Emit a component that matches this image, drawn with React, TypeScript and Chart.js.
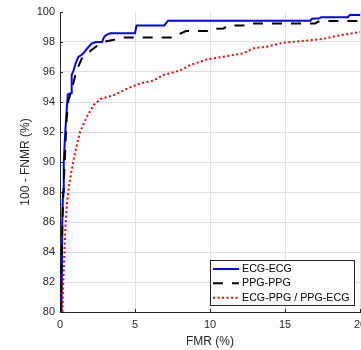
import React, { useEffect, useRef } from 'react';
import { Chart, registerables } from 'chart.js';

Chart.register(...registerables);

// ---- data ----
const ecgEcgX = [0.1, 0.15, 0.2, 0.25, 0.35, 0.45, 0.52, 0.74, 0.78, 0.9, 1.05, 1.22, 1.45, 1.6, 1.8, 2.1, 2.4, 2.8, 2.95, 3.1, 3.35, 5.0, 5.1, 6.95, 7.2, 16.7, 16.8, 17.3, 17.4, 19.2, 19.3, 20];
const ecgEcgY = [80, 86, 88, 90, 92, 93.5, 94.5, 94.6, 95.8, 96.1, 96.6, 97.0, 97.15, 97.3, 97.55, 97.9, 98.0, 98.0, 98.35, 98.47, 98.58, 98.58, 99.1, 99.1, 99.42, 99.42, 99.55, 99.58, 99.65, 99.65, 99.8, 99.8];

const ppgPpgX = [0.05, 0.12, 0.18, 0.25, 0.35, 0.44, 0.56, 0.75, 0.9, 1.0, 1.22, 1.45, 1.8, 2.1, 2.55, 3.1, 3.6, 3.8, 4.0, 7.6, 7.9, 8.4, 9.8, 10.0, 10.9, 11.2, 12.3, 12.6, 17.0, 17.3, 20];
const ppgPpgY = [80, 84, 86.6, 88.6, 90.8, 92.8, 94.1, 94.7, 95.3, 95.7, 96.35, 96.9, 97.2, 97.47, 97.8, 98.05, 98.15, 98.24, 98.3, 98.3, 98.5, 98.73, 98.73, 98.87, 98.9, 99.1, 99.1, 99.24, 99.24, 99.4, 99.4];

const crossX = [0.16, 0.22, 0.29, 0.38, 0.47, 0.6, 0.78, 1.0, 1.33, 1.78, 2.25, 2.7, 3.7, 4.35, 5.35, 6.2, 6.9, 8.0, 8.7, 9.8, 10.9, 12.2, 12.9, 13.8, 14.9, 16.4, 17.5, 18.4, 19.1, 20];
const crossY = [80, 82, 84, 86, 87.3, 88.4, 89.5, 90.6, 92.0, 93.0, 93.8, 94.2, 94.5, 94.84, 95.24, 95.42, 95.8, 96.1, 96.47, 96.84, 97.02, 97.24, 97.58, 97.69, 97.96, 98.09, 98.2, 98.4, 98.51, 98.67];

const seriesLabels = ['ECG-ECG', 'PPG-PPG', 'ECG-PPG / PPG-ECG'];
const xTickValues = [0, 5, 10, 15, 20];
const yTickValues = [80, 82, 84, 86, 88, 90, 92, 94, 96, 98, 100];

const FONT = "'Liberation Sans', Arial, Helvetica, sans-serif";
const AXIS_COLOR = '#262626';
const GRID_COLOR = '#dfdfdf';

const toPoints = (xs: number[], ys: number[]) => xs.map((x, i) => ({ x, y: ys[i] }));

const tickPlugin = {
  id: 'inwardTicks',
  beforeDatasetsDraw(chart: any) {
    const { ctx, chartArea, scales } = chart;
    ctx.save();
    ctx.strokeStyle = AXIS_COLOR;
    ctx.lineWidth = 1;
    ctx.beginPath();
    xTickValues.forEach((v) => {
      const px = Math.round(scales.x.getPixelForValue(v)) + 0.5;
      ctx.moveTo(px, chartArea.bottom);
      ctx.lineTo(px, chartArea.bottom - 3);
    });
    yTickValues.forEach((v) => {
      const py = Math.round(scales.y.getPixelForValue(v)) + 0.5;
      ctx.moveTo(chartArea.left, py);
      ctx.lineTo(chartArea.left + 3, py);
    });
    ctx.stroke();
    ctx.restore();
  },
};

const legendPlugin = {
  id: 'insideLegend',
  afterDraw(chart: any) {
    const { ctx, chartArea } = chart;
    const datasets = chart.data.datasets;
    ctx.save();
    ctx.font = `10.7px ${FONT}`;
    const textW = Math.max(...datasets.map((d: any) => ctx.measureText(d.label).width));
    const sampleLen = 26;
    const width = Math.round(3 + sampleLen + 3 + textW + 5);
    const height = 45;
    const right = chartArea.right - 6;
    const bottom = chartArea.bottom - 7;
    const left = right - width;
    const top = bottom - height;
    ctx.fillStyle = '#ffffff';
    ctx.fillRect(left, top, width, height);
    ctx.strokeStyle = AXIS_COLOR;
    ctx.lineWidth = 1;
    ctx.strokeRect(left + 0.5, top + 0.5, width, height);
    const rows = [top + 9, top + 23.3, top + 37.7];
    datasets.forEach((d: any, i: number) => {
      const y = rows[i];
      ctx.beginPath();
      ctx.strokeStyle = d.borderColor;
      ctx.lineWidth = d.borderWidth;
      ctx.setLineDash(d.borderDash || []);
      ctx.moveTo(left + 3, y);
      ctx.lineTo(left + 3 + sampleLen, y);
      ctx.stroke();
      ctx.setLineDash([]);
      ctx.fillStyle = '#000000';
      ctx.textBaseline = 'middle';
      ctx.textAlign = 'left';
      ctx.fillText(d.label, left + 3 + sampleLen + 3, y);
    });
    ctx.restore();
  },
};

export default function App() {
  const ref = useRef<HTMLCanvasElement>(null);
  useEffect(() => {
    document.body.style.margin = '0';
    const chart = new Chart(ref.current as HTMLCanvasElement, {
      type: 'line',
      data: {
        datasets: [
          {
            label: seriesLabels[0],
            data: toPoints(ecgEcgX, ecgEcgY),
            borderColor: '#0000ff',
            borderWidth: 2,
            pointRadius: 0,
            tension: 0,
            fill: false,
            order: 3,
          },
          {
            label: seriesLabels[1],
            data: toPoints(ppgPpgX, ppgPpgY),
            borderColor: '#000000',
            borderWidth: 2,
            borderDash: [10, 9],
            pointRadius: 0,
            tension: 0,
            fill: false,
            order: 2,
          },
          {
            label: seriesLabels[2],
            data: toPoints(crossX, crossY),
            borderColor: '#ff0000',
            borderWidth: 2,
            borderDash: [2, 2.5],
            pointRadius: 0,
            tension: 0,
            fill: false,
            order: 1,
          },
        ],
      },
      options: {
        animation: false,
        responsive: false,
        events: [],
        layout: { padding: { top: 12, right: 1, left: 0, bottom: 0 } },
        plugins: {
          legend: { display: false },
          tooltip: { enabled: false },
        },
        scales: {
          x: {
            type: 'linear',
            min: 0,
            max: 20,
            afterBuildTicks: (s: any) => {
              s.ticks = xTickValues.map((v) => ({ value: v }));
            },
            afterFit: (s: any) => {
              s.height = 38;
              s.paddingLeft = 0;
              s.paddingRight = 0;
            },
            ticks: {
              font: { family: FONT, size: 11 },
              color: AXIS_COLOR,
              padding: 6,
              maxRotation: 0,
              autoSkip: false,
            },
            grid: {
              drawTicks: false,
              color: (c: any) => (c.tick && c.tick.value === 0 ? 'rgba(0,0,0,0)' : GRID_COLOR),
            },
            border: { display: true, color: AXIS_COLOR, width: 1 },
            title: {
              display: true,
              text: 'FMR (%)',
              font: { family: FONT, size: 12 },
              color: AXIS_COLOR,
              padding: { top: 0, bottom: 1 },
            },
          },
          y: {
            type: 'linear',
            min: 80,
            max: 100,
            afterBuildTicks: (s: any) => {
              s.ticks = yTickValues.map((v) => ({ value: v }));
            },
            afterFit: (s: any) => {
              s.width = 60;
              s.paddingTop = 0;
              s.paddingBottom = 0;
            },
            ticks: {
              font: { family: FONT, size: 11 },
              color: AXIS_COLOR,
              padding: 5,
              autoSkip: false,
            },
            grid: {
              drawTicks: false,
              color: (c: any) =>
                c.tick && (c.tick.value === 80 || c.tick.value === 100) ? 'rgba(0,0,0,0)' : GRID_COLOR,
            },
            border: { display: true, color: AXIS_COLOR, width: 1 },
            title: {
              display: true,
              text: '100 - FNMR (%)',
              font: { family: FONT, size: 12 },
              color: AXIS_COLOR,
              padding: { top: 18, bottom: 0 },
            },
          },
        },
      },
      plugins: [tickPlugin, legendPlugin],
    } as any);
    return () => chart.destroy();
  }, []);
  return (
    <div style={{ position: 'absolute', left: 0, top: 0, width: 361, height: 350, background: '#fff' }}>
      <canvas ref={ref} width={361} height={350} style={{ display: 'block' }} />
    </div>
  );
}
